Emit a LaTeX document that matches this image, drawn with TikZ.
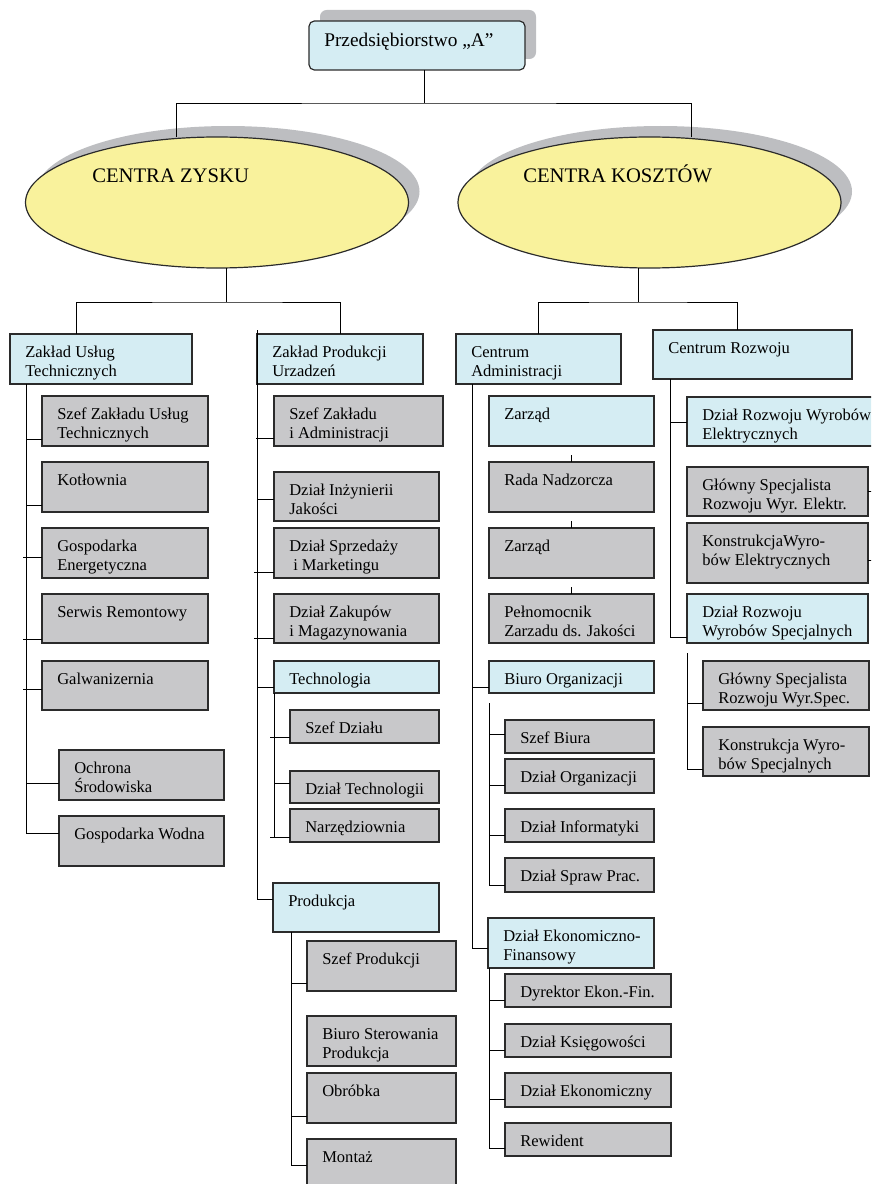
\documentclass[tikz,border=0pt]{standalone}
\usepackage{fontspec}
\setmainfont{Liberation Serif}
\usetikzlibrary{calc,shapes.geometric}

\definecolor{boxblue}{HTML}{D5EDF3}
\definecolor{boxgray}{HTML}{C8C8CA}
\definecolor{ovalyellow}{HTML}{F9F29C}
\definecolor{shadowgray}{HTML}{BDBEC1}
\definecolor{edge}{HTML}{2B2B2B}

\tikzset{
  unitbox/.style={draw=edge, line width=0.9pt, inner sep=0pt, outer sep=0pt, anchor=north west},
  bluebox/.style={unitbox, fill=boxblue},
  graybox/.style={unitbox, fill=boxgray},
  lbl/.style={anchor=base west, inner sep=0pt, font=\fontsize{12.4}{14}\selectfont},
  biglbl/.style={anchor=base west, inner sep=0pt, font=\fontsize{15.5}{18}\selectfont},
  link/.style={line width=0.7pt, black},
}

% box: name, x1, y1, x2, y2, style, first line, second line
\newcommand\orgbox[8]{%
  \node[#6, minimum width={(#4-(#2))*0.75pt}, minimum height={(#5-(#3))*0.75pt}] (#1) at (#2,#3) {};
  \node[lbl] at ($(#1.north west)+(15,23)$) {#7};
  \if\relax\detokenize{#8}\relax\else
    \node[lbl] at ($(#1.north west)+(15,42)$) {#8};
  \fi}
% horizontal tap from a trunk point to the west side of a box
\newcommand\tap[3]{\draw[link] (#1,#2) coordinate (t) -- (t -| #3.west);}

\begin{document}
\begin{tikzpicture}[x=0.75pt, y=-0.75pt]
\useasboundingbox (0,0) rectangle (871,1184);
\clip (0,0) rectangle (871,1184);

% ---- top unit ----
\fill[shadowgray, rounded corners=5] (320,10) rectangle (536,59);
\node[unitbox, fill=boxblue, rounded corners=4, minimum width={216*0.75pt}, minimum height={49*0.75pt}] (top) at (309,21) {};
\node[anchor=base west, inner sep=0pt, font=\fontsize{14.5}{17}\selectfont] at ($(top.north west)+(15,26)$) {Przedsiębiorstwo „A”};

% ---- the two centres ----
\fill[shadowgray] (228,191.5) ellipse [x radius=191.5, y radius=65.5];
\fill[shadowgray] (660.5,191.5) ellipse [x radius=191.5, y radius=65.5];
\node[ellipse, draw=edge, line width=0.9pt, fill=ovalyellow, inner sep=0pt, outer sep=0pt,
      minimum width={383*0.75pt}, minimum height={131*0.75pt}] (zysk) at (217,202.5) {};
\node[ellipse, draw=edge, line width=0.9pt, fill=ovalyellow, inner sep=0pt, outer sep=0pt,
      minimum width={383*0.75pt}, minimum height={131*0.75pt}] (koszt) at (649.5,202.5) {};
\node[biglbl] at (92,182) {CENTRA ZYSKU};
\node[biglbl] at (523,182) {CENTRA KOSZTÓW};

\coordinate (split) at (424,103);
\draw[link] (top.south -| split) -- (split);
\draw[link] (zysk.north -| 176,0) |- (split) -| (koszt.north -| 691,0);

% ---- second level ----
\orgbox{zut}{10}{334}{192}{384}{bluebox}{Zakład Usług}{Technicznych}
\orgbox{zpu}{257}{334}{423}{384}{bluebox}{Zakład Produkcji}{Urzadzeń}
\orgbox{cadm}{456}{334}{621}{384}{bluebox}{Centrum}{Administracji}
\orgbox{crozw}{653}{330}{852}{379}{bluebox}{Centrum Rozwoju}{}

\coordinate (lsplit) at (226,302);
\coordinate (rsplit) at (638,302);
\draw[link] (zysk.south -| lsplit) -- (lsplit);
\draw[link] (zut.north -| 76,0) |- (lsplit) -| (zpu.north -| 340,0);
\draw[link] (koszt.south -| rsplit) -- (rsplit);
\draw[link] (cadm.north -| 538,0) |- (rsplit) -| (crozw.north -| 737,0);

% ---- Zakład Usług Technicznych ----
\orgbox{l1}{42}{396}{208}{446}{graybox}{Szef Zakładu Usług}{Technicznych}
\orgbox{l2}{42}{462}{208}{512}{graybox}{Kotłownia}{}
\orgbox{l3}{42}{528}{208}{578}{graybox}{Gospodarka}{Energetyczna}
\orgbox{l4}{42}{594}{208}{643}{graybox}{Serwis Remontowy}{}
\orgbox{l5}{42}{661}{208}{710}{graybox}{Galwanizernia}{}
\orgbox{l6}{59}{750}{224}{800}{graybox}{Ochrona}{Środowiska}
\orgbox{l7}{59}{816}{224}{866}{graybox}{Gospodarka Wodna}{}
\draw[link] (zut.south -| 26,0) -- (26,833);
\tap{26}{439}{l1}
\tap{26}{505}{l2}
\tap{23}{557}{l3}
\tap{23}{639}{l4}
\tap{23}{689}{l5}
\tap{26}{783}{l6}
\tap{26}{833}{l7}

% ---- Zakład Produkcji Urządzeń ----
\orgbox{m1}{274}{396}{443}{446}{graybox}{Szef Zakładu}{i Administracji}
\orgbox{m2}{274}{472}{439}{521}{graybox}{Dział Inżynierii}{Jakości}
\orgbox{m3}{274}{528}{439}{578}{graybox}{Dział Sprzedaży}{\hspace{3pt}i Marketingu}
\orgbox{m4}{274}{594}{439}{643}{graybox}{Dział Zakupów}{i Magazynowania}
\orgbox{tech}{274}{661}{439}{693}{bluebox}{Technologia}{}
\orgbox{t1}{290}{710}{439}{743}{graybox}{Szef Działu}{}
\orgbox{t2}{290}{771}{439}{803}{graybox}{Dział Technologii}{}
\orgbox{t3}{290}{809}{439}{842}{graybox}{Narzędziownia}{}
\orgbox{prod}{273}{883}{439}{932}{bluebox}{Produkcja}{}
\orgbox{p1}{307}{941}{456}{991}{graybox}{Szef Produkcji}{}
\orgbox{p2}{307}{1016}{456}{1066}{graybox}{Biuro Sterowania}{Produkcja}
\orgbox{p3}{307}{1073}{456}{1123}{graybox}{Obróbka}{}
\orgbox{p4}{307}{1139}{456}{1189}{graybox}{Montaż}{}
\draw[link] (zpu.north west) ++(0,-4) -- (257,899);
\tap{256}{438}{m1}
\tap{257}{499}{m2}
\tap{254}{572}{m3}
\tap{254}{638}{m4}
\tap{257}{687}{tech}
\tap{257}{899}{prod}
\draw[link] (tech.south west) -- (274,837);
\tap{270}{737}{t1}
\tap{274}{783}{t2}
\tap{270}{837}{t3}
\draw[link] (prod.south -| 291,0) -- (291,1165);
\tap{291}{983}{p1}
\tap{291}{1116}{p3}
\tap{291}{1165}{p4}

% ---- Centrum Administracji ----
\orgbox{a1}{489}{396}{654}{446}{bluebox}{Zarząd}{}
\orgbox{a2}{489}{462}{654}{512}{graybox}{Rada Nadzorcza}{}
\orgbox{a3}{489}{528}{654}{578}{graybox}{Zarząd}{}
\orgbox{a4}{489}{594}{654}{643}{graybox}{Pełnomocnik}{Zarzadu ds. Jakości}
\orgbox{biuro}{489}{661}{654}{693}{bluebox}{Biuro Organizacji}{}
\orgbox{b1}{505}{720}{654}{753}{graybox}{Szef Biura}{}
\orgbox{b2}{505}{759}{654}{793}{graybox}{Dział Organizacji}{}
\orgbox{b3}{505}{809}{654}{842}{graybox}{Dział Informatyki}{}
\orgbox{b4}{505}{858}{654}{892}{graybox}{Dział Spraw Prac.}{}
\orgbox{ekon}{488}{918}{654}{968}{bluebox}{Dział Ekonomiczno-}{Finansowy}
\orgbox{e1}{505}{974}{671}{1007}{graybox}{Dyrektor Ekon.-Fin.}{}
\orgbox{e2}{505}{1024}{671}{1057}{graybox}{Dział Księgowości}{}
\orgbox{e3}{505}{1073}{671}{1107}{graybox}{Dział Ekonomiczny}{}
\orgbox{e4}{505}{1123}{671}{1156}{graybox}{Rewident}{}
\draw[link] (cadm.south -| 472,0) -- (472,948);
\draw[link] (a2.north) -- ++(0,-7);
\draw[link] (a3.north) -- ++(0,-7);
\draw[link] (a4.north) -- ++(0,-7);
\tap{472}{687}{biuro}
\tap{472}{948}{ekon}
\draw[link] (biuro.south west) ++(0,10) -- (489,885);
\tap{489}{734}{b1}
\tap{489}{785}{b2}
\tap{489}{835}{b3}
\tap{489}{885}{b4}
\draw[link] (ekon.south -| 489,0) -- (489,1148);
\tap{489}{1000}{e1}
\tap{489}{1050}{e2}
\tap{489}{1099}{e3}
\tap{489}{1148}{e4}

% ---- Centrum Rozwoju ----
\orgbox{r1}{687}{397}{875}{446}{bluebox}{Dział Rozwoju Wyrobów}{Elektrycznych}
\orgbox{r2}{687}{467}{868}{516}{graybox}{Główny Specjalista}{Rozwoju Wyr. Elektr.}
\orgbox{r3}{687}{523}{868}{583}{graybox}{KonstrukcjaWyro-}{bów Elektrycznych}
\orgbox{r4}{687}{594}{868}{643}{bluebox}{Dział Rozwoju}{Wyrobów Specjalnych}
\orgbox{s1}{703}{661}{869}{710}{graybox}{Główny Specjalista}{Rozwoju Wyr.Spec.}
\orgbox{s2}{703}{727}{869}{776}{graybox}{Konstrukcja Wyro-}{bów Specjalnych}
\draw[link] (crozw.south -| 670,0) -- (670,637);
\tap{670}{422}{r1}
\tap{670}{637}{r4}
\draw[link] (r2.east) -- ++(5,0);
\draw[link] (r3.east) ++(0,7) -- ++(5,0);
\draw[link] (r4.south west) ++(0,10) -- (687,769);
\tap{687}{703}{s1}
\tap{687}{769}{s2}
\end{tikzpicture}
\end{document}
